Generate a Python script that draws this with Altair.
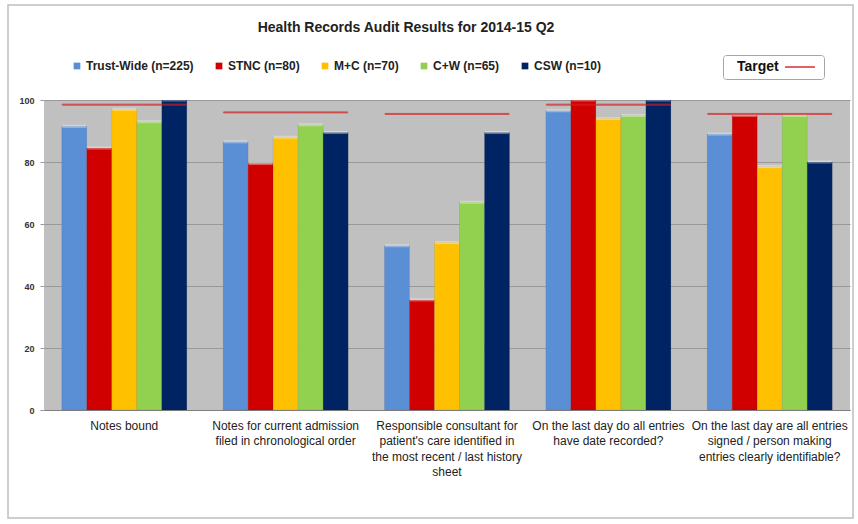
import altair as alt
import pandas as pd

questions = [
    "Notes bound",
    "Notes  for current admission|filed in chronological order",
    "Responsible consultant for|patient's care identified in|the most recent / last history|sheet",
    "On the last day do all entries|have date recorded?",
    "On the last day are all entries|signed / person making|entries clearly identifiable?",
]
series = ["Trust-Wide (n=225)", "STNC (n=80)", "M+C (n=70)", "C+W (n=65)", "CSW (n=10)"]
colors = ["#5b8fd5", "#d00000", "#ffc000", "#92d050", "#002463"]

trust_wide = [91.5, 86.5, 53, 96.5, 89]
stnc = [84.5, 79.5, 35.5, 100, 95]
m_c = [97, 88, 54, 94, 78.5]
c_w = [93, 92, 67, 95, 95]
csw = [100, 89.5, 89.5, 100, 80]
target = [98.5, 96, 95.5, 98.5, 95.5]

values = [trust_wide, stnc, m_c, c_w, csw]
rows = []
for s, vals in zip(series, values):
    for q, v in zip(questions, vals):
        rows.append({"question": q, "series": s, "value": v})
bars_df = pd.DataFrame(rows)
target_df = pd.DataFrame({"question": questions, "target": target, "name": ["Target"] * len(questions)})

x_enc = alt.X(
    "question:N",
    sort=questions,
    scale=alt.Scale(paddingInner=0.225, paddingOuter=0.11),
    axis=alt.Axis(
        title=None,
        labelAngle=0,
        labelExpr="split(datum.label, '|')",
        labelFont="Liberation Sans",
        labelFontSize=12,
        labelColor="#222222",
        labelLimit=300,
        labelPadding=10,
        labelLineHeight=15.5,
        labelBaseline="top",
        ticks=False,
        domainColor="#7f7f7f",
    ),
)

y_enc = alt.Y(
    "value:Q",
    scale=alt.Scale(domain=[0, 100]),
    axis=alt.Axis(
        title=None,
        values=[0, 20, 40, 60, 80, 100],
        labelFont="Liberation Sans",
        labelFontSize=9,
        labelFontWeight="bold",
        labelColor="#333333",
        labelPadding=6,
        grid=True,
        gridColor="#999999",
        gridWidth=1,
        domain=False,
        tickColor="#999999",
        tickSize=4,
    ),
)

bars = alt.Chart(bars_df).mark_bar(stroke="#00000022", strokeWidth=0.5).encode(
    x=x_enc,
    xOffset=alt.XOffset("series:N", sort=series, scale=alt.Scale(paddingInner=0, paddingOuter=0)),
    y=y_enc,
    color=alt.Color(
        "series:N",
        sort=series,
        scale=alt.Scale(domain=series, range=colors),
        legend=alt.Legend(
            title=None,
            orient="none",
            direction="horizontal",
            legendX=27,
            legendY=-40,
            symbolType="square",
            symbolSize=45,
            symbolStrokeWidth=0,
            labelFont="Liberation Sans",
            labelFontSize=12,
            labelFontWeight="bold",
            labelColor="#222222",
            labelOffset=3,
            columnPadding=19,
        ),
    ),
)

caps = alt.Chart(bars_df).mark_tick(color="white", opacity=0.35, thickness=3, size=24).encode(
    x=alt.X("question:N", sort=questions),
    xOffset=alt.XOffset("series:N", sort=series),
    y=alt.Y("value:Q"),
)

targets = alt.Chart(target_df).mark_tick(fill="#d42020", thickness=1, strokeWidth=1, size=124).encode(
    x=alt.X("question:N", sort=questions),
    y=alt.Y("target:Q"),
    stroke=alt.Stroke(
        "name:N",
        scale=alt.Scale(domain=["Target"], range=["#d42020"]),
        legend=alt.Legend(
            title=None,
            orient="none",
            legendX=679,
            legendY=-45,
            symbolType="M-3,0H3",
            symbolSize=100,
            symbolStrokeWidth=2,
            symbolOffset=65,
            labelOffset={"expr": "-70"},
            labelFont="Liberation Sans",
            labelFontSize=14,
            labelFontWeight="bold",
            labelColor="#111111",
            padding=5,
            strokeColor="#a6a6a6",
            cornerRadius=3,
        ),
    ),
)

border = alt.Chart(pd.DataFrame({"a": [0]})).mark_rect(
    filled=False, stroke="#bfbfbf", strokeWidth=1.5, clip=False
).encode(
    x=alt.value(-36), x2=alt.value(809), y=alt.value(-95), y2=alt.value(418)
)

chart = (
    alt.layer(border, bars, caps, targets)
    .resolve_scale(x="shared")
    .properties(
        width=806,
        height=310,
        autosize=alt.AutoSizeParams(type="none"),
        padding={"left": 44, "top": 100, "right": 8, "bottom": 114},
        title=alt.TitleParams(
            "Health Records Audit Results for 2014-15 Q2",
            font="Liberation Sans",
            fontSize=14,
            fontWeight="bold",
            color="#222222",
            anchor="middle",
            dx=-41,
            offset=0,
            dy=31,
        ),
        background="white",
    )
    .configure_view(fill="#c0c0c0", stroke=None)
)

chart.save("out.html", embed_options={"renderer": "svg", "actions": False})
